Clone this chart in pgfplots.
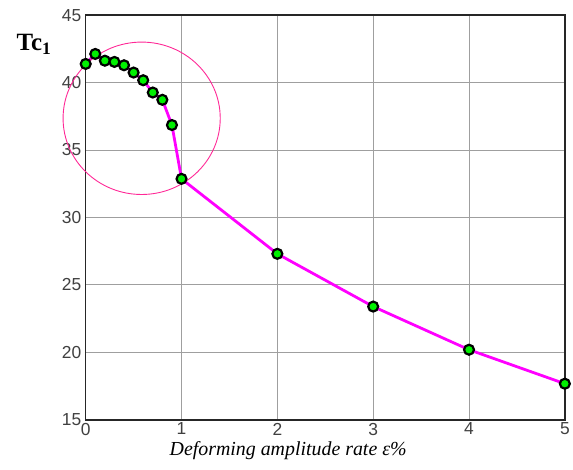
\documentclass[border=0pt]{standalone}
\usepackage{fontspec}
\setmainfont{Liberation Serif}
\setsansfont{Liberation Sans}
\usepackage{pgfplots}
\pgfplotsset{compat=1.18}

\definecolor{mag}{RGB}{255,0,255}
\definecolor{grn}{RGB}{0,240,0}
\definecolor{ringc}{RGB}{255,40,150}

\begin{document}
\begin{tikzpicture}
\draw[white] (-86pt,-50pt) rectangle (487pt,422pt); % page frame: 573 x 472
\begin{axis}[
  at={(0,0)}, anchor=south west,
  scale only axis, width=482pt, height=407pt,
  xmin=0, xmax=5, ymin=15, ymax=45,
  xtick={0,1,2,3,4,5},
  ytick={15,20,25,30,35,40,45},
  grid=major,
  major grid style={gray!75, line width=0.8pt},
  major tick length=0pt,
  axis line style={black!85, line width=1.6pt},
  clip=false,
  /pgf/number format/assume math mode=true,
  ticklabel style={font=\fontsize{17.5}{20}\sffamily, color=black!75},
  xticklabel style={yshift=-2pt, inner ysep=1pt},
  yticklabel style={xshift=-1pt},
  xlabel={\fontsize{20}{24}\selectfont\itshape Deforming amplitude rate ε\%},
  xlabel style={at={(rel axis cs:0.4226,0)}, anchor=base, yshift=-36pt, inner ysep=0pt},
  ylabel={\fontsize{25}{28}\selectfont\bfseries Tc\textsubscript{1}},
  ylabel style={rotate=-90, at={(rel axis cs:0,0.9115)}, anchor=base, xshift=-52pt},
]
\addplot[mag, line width=2.8pt, mark=*, mark size=5pt,
  mark options={fill=grn, draw=black, line width=2.2pt}]
  coordinates {
  (0,41.38) (0.1,42.12) (0.2,41.62) (0.3,41.53) (0.4,41.28)
  (0.5,40.74) (0.6,40.17) (0.7,39.26) (0.8,38.72) (0.9,36.85)
  (1,32.86) (2,27.30) (3,23.39) (4,20.19) (5,17.67)
  };
\draw[ringc, line width=0.9pt] (axis cs:0.584,37.35) ellipse [x radius=0.82, y radius=5.65];
\end{axis}
\end{tikzpicture}
\end{document}
